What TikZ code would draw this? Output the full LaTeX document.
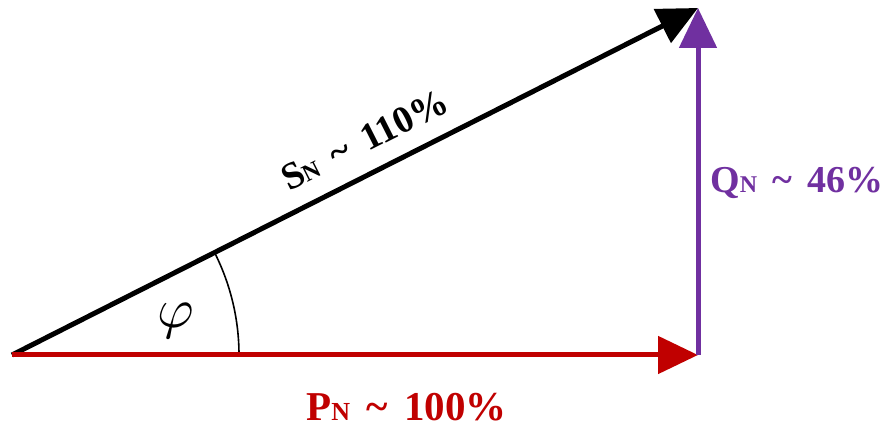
\documentclass[tikz,border=0pt]{standalone}
\usepackage{fontspec}
\setmainfont{Liberation Serif}
\usetikzlibrary{arrows.meta}
\definecolor{pred}{HTML}{C00000}
\definecolor{qpurple}{HTML}{7030A0}
\newcommand{\smallN}[1]{{\fontsize{#1}{#1}\selectfont N}}
\newcommand{\tld}{\hspace{0.4em}\textasciitilde\hspace{0.4em}}
\begin{document}
\begin{tikzpicture}[x=1pt,y=1pt,
  vec/.style={line width=5pt, -{Triangle[length=40pt,width=37pt]}},
  lbl/.style={font=\bfseries, inner sep=0pt, text depth=0pt}]
\useasboundingbox (0,0) rectangle (888,427);
\coordinate (O) at (12,72);
\coordinate (P) at (698,72);
\coordinate (S) at (698,419);
\coordinate (Q) at (698,419);
\draw[line width=1.6pt] (O) ++(0:227) arc[start angle=0, end angle=26.83, radius=227];
\draw[vec, black] (O) -- (S);
\draw[vec, pred] (O) -- (P);
\draw[vec, qpurple] (P) -- (Q);
\node (phi) at (176,106) {\scalebox{5.6}{$\varphi$}};
\node[lbl, rotate=26.83, anchor=base] (sl) at (370,276) {\fontsize{38}{38}\selectfont S\smallN{24}\tld 110\%};
\node[lbl, text=qpurple, anchor=base west] (ql) at (710,234) {\fontsize{38}{38}\selectfont Q\smallN{24}\tld 46\%};
\node[lbl, text=pred, anchor=base] (pl) at (406.5,6) {\fontsize{41}{41}\selectfont P\smallN{26}\tld 100\%};
\end{tikzpicture}
\end{document}
